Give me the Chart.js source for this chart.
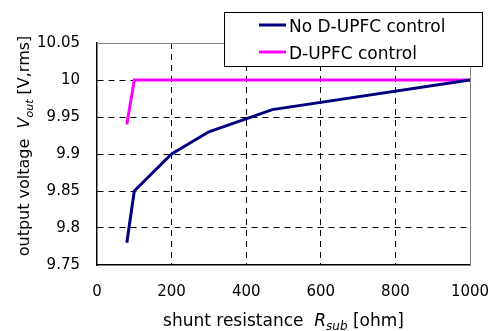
<!DOCTYPE html>
<html>
<head>
<meta charset="utf-8">
<script src="https://cdn.jsdelivr.net/npm/chart.js@4"></script>
<style>
  html, body { margin: 0; padding: 0; background: #fff; }
  canvas { display: block; }
</style>
</head>
<body>
<canvas id="c" width="490" height="331"></canvas>
<script>
// ---- data ----
const seriesNames = ["No D-UPFC control", "D-UPFC control"];
const resNoCtrl = [80, 100, 200, 300, 470, 1000];
const voutNoCtrl = [9.78, 9.85, 9.90, 9.93, 9.96, 10.00];
const resCtrl = [80, 100, 1000];
const voutCtrl = [9.94, 10.00, 10.00];
const xTickValues = [0, 200, 400, 600, 800, 1000];
const yTickValues = [9.75, 9.8, 9.85, 9.9, 9.95, 10, 10.05];

const FONT = "'DejaVu Sans', sans-serif";
const colNo = "#000080";
const colCtrl = "#FF00FF";

function pts(xs, ys) { return xs.map((x, i) => ({ x: x, y: ys[i] })); }

const framePlugin = {
  id: 'frameAndTitles',
  afterDraw(chart) {
    const ctx = chart.ctx;
    const a = chart.chartArea;
    ctx.save();
    // gray top/right frame
    ctx.strokeStyle = '#808080';
    ctx.lineWidth = 1;
    ctx.beginPath();
    ctx.moveTo(a.left, a.top + 0.5);
    ctx.lineTo(a.right + 0.5, a.top + 0.5);
    ctx.lineTo(a.right + 0.5, a.bottom);
    ctx.stroke();

    // legend box
    const lx = 224, ly = 12, lw = 258, lh = 54;
    ctx.fillStyle = '#fff';
    ctx.fillRect(lx, ly, lw, lh);
    ctx.strokeStyle = '#000';
    ctx.lineWidth = 1;
    ctx.strokeRect(lx + 0.5, ly + 0.5, lw, lh);
    const rows = [{ c: colNo, y: 25, t: seriesNames[0] }, { c: colCtrl, y: 52, t: seriesNames[1] }];
    rows.forEach(r => {
      ctx.strokeStyle = r.c;
      ctx.lineWidth = 3;
      ctx.beginPath();
      ctx.moveTo(259, r.y);
      ctx.lineTo(286, r.y);
      ctx.stroke();
      ctx.fillStyle = '#000';
      ctx.font = '17px ' + FONT;
      ctx.textBaseline = 'alphabetic';
      ctx.textAlign = 'left';
      ctx.fillText(r.t, 289, r.y + 7);
    });

    // mixed-style titles
    function drawRich(parts, cx, cy) {
      let total = 0;
      parts.forEach(p => { ctx.font = p.f; p.w = ctx.measureText(p.t).width; total += p.w; });
      let x = cx - total / 2;
      ctx.textAlign = 'left';
      ctx.textBaseline = 'alphabetic';
      ctx.fillStyle = '#000';
      parts.forEach(p => { ctx.font = p.f; ctx.fillText(p.t, x, cy + (p.dy || 0)); x += p.w; });
    }
    const n = '17px ' + FONT, it = 'italic 17px ' + FONT, sub = 'italic 12px ' + FONT;
    drawRich([
      { t: 'shunt resistance  ', f: n },
      { t: 'R', f: it },
      { t: 'sub', f: sub, dy: 4 },
      { t: ' [ohm]', f: n }
    ], (a.left + a.right) / 2, 326);

    const n2 = '16px ' + FONT, it2 = 'italic 16px ' + FONT, sub2 = 'italic 11px ' + FONT;
    ctx.save();
    ctx.translate(29, 146);
    ctx.rotate(-Math.PI / 2);
    drawRich([
      { t: 'output voltage  ', f: n2 },
      { t: 'V', f: it2 },
      { t: 'out', f: sub2, dy: 4 },
      { t: ' [V,rms]', f: n2 }
    ], 0, 0);
    ctx.restore();
    ctx.restore();
  }
};

new Chart(document.getElementById('c'), {
  type: 'line',
  data: {
    datasets: [
      { label: seriesNames[0], data: pts(resNoCtrl, voutNoCtrl), borderColor: colNo, borderWidth: 3, pointRadius: 0, tension: 0, fill: false },
      { label: seriesNames[1], data: pts(resCtrl, voutCtrl), borderColor: colCtrl, borderWidth: 3, pointRadius: 0, tension: 0, fill: false }
    ]
  },
  options: {
    responsive: false,
    animation: false,
    layout: { padding: { top: 43, right: 20, left: 0, bottom: 0 } },
    plugins: { legend: { display: false }, tooltip: { enabled: false } },
    scales: {
      x: {
        type: 'linear', min: 0, max: 1000,
        afterBuildTicks: s => { s.ticks = xTickValues.map(v => ({ value: v })); },
        afterFit: s => { s.height = 66; s.paddingLeft = 0; s.paddingRight = 0; },
        ticks: { color: '#000', font: { family: FONT, size: 15 }, padding: 18, maxRotation: 0,
          callback: v => String(v) },
        grid: {
          drawTicks: false,
          color: c => (c.tick && (c.tick.value === 0 || c.tick.value === 1000)) ? 'rgba(0,0,0,0)' : '#000',
          lineWidth: 1
        },
        border: { display: true, color: '#000', width: 1.5, dash: [6, 5] }
      },
      y: {
        type: 'linear', min: 9.75, max: 10.05,
        afterBuildTicks: s => { s.ticks = yTickValues.map(v => ({ value: v })); },
        afterFit: s => { s.width = 97; s.paddingTop = 0; s.paddingBottom = 0; },
        ticks: { color: '#000', font: { family: FONT, size: 15 }, padding: 17,
          callback: v => String(Number(Number(v).toFixed(2))) },
        grid: {
          drawTicks: false,
          color: c => (c.tick && (Math.abs(c.tick.value - 9.75) < 1e-6 || Math.abs(c.tick.value - 10.05) < 1e-6)) ? 'rgba(0,0,0,0)' : '#000',
          lineWidth: 1
        },
        border: { display: true, color: '#000', width: 1.5, dash: [6, 5] }
      }
    }
  },
  plugins: [framePlugin]
});
</script>
</body>
</html>
